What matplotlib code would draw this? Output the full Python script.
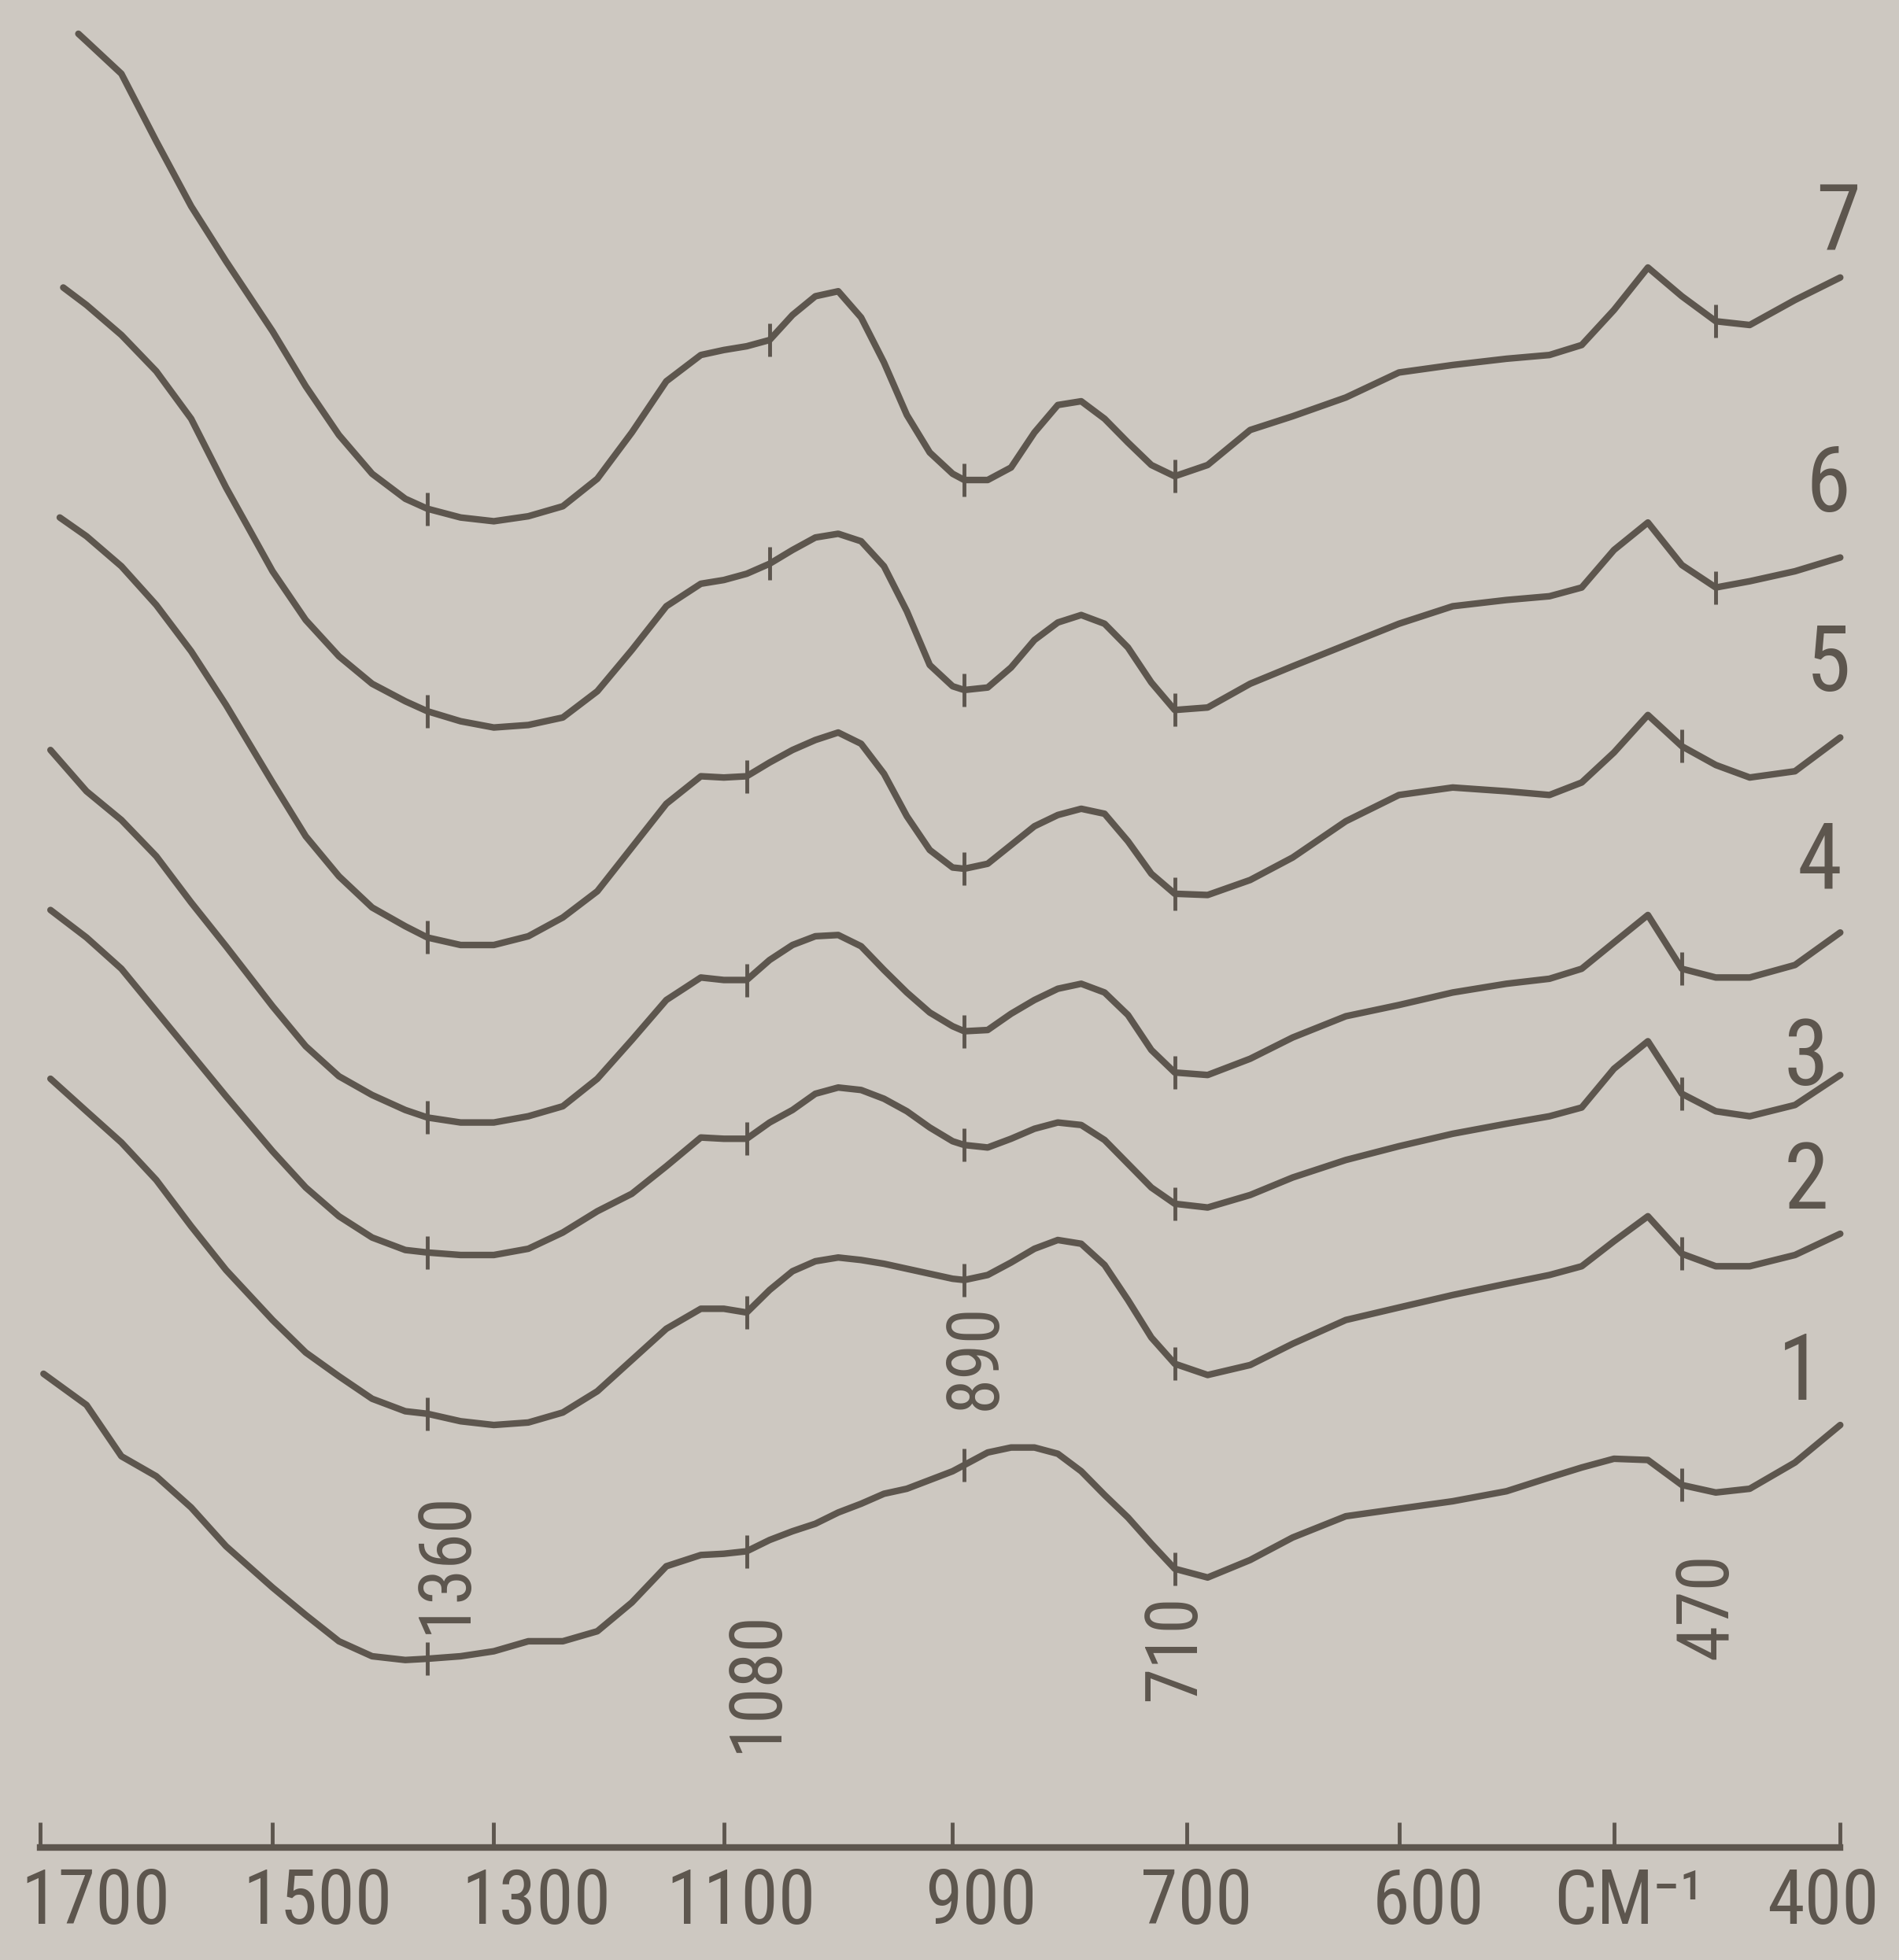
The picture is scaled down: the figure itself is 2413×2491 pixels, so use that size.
import os
import numpy as np
import matplotlib
matplotlib.use("Agg")
import matplotlib.pyplot as plt
from matplotlib import font_manager
from matplotlib.font_manager import FontProperties
from matplotlib.ft2font import FT2Font
from matplotlib.transforms import offset_copy

# ------------------ DADOS (lidos do espectro) ------------------
# grade comum de numeros de onda, cm-1 (o 1o ponto e trocado pelo inicio de cada curva)
wavenumbers = [1690, 1660, 1630, 1600, 1570, 1540, 1500, 1470, 1440, 1410,
               1380, 1360, 1330, 1300, 1270, 1240, 1210, 1180, 1150, 1120,
               1100, 1080, 1060, 1040, 1020, 1000, 980, 960, 940, 920,
               900, 890, 870, 850, 830, 810, 790, 770, 750, 730,
               710, 690, 670, 650, 625, 600, 575, 550, 530, 515,
               500, 485, 470, 455, 440, 420, 400]
curve_starts = [1697, 1691, 1691, 1691, 1683, 1680, 1667]

# ordenada de cada curva (posicao na folha do registrador, 0 = topo)
curve_1 = [1099, 1124, 1165, 1181, 1206, 1237, 1270, 1292, 1313, 1325,
           1328, 1327, 1325, 1321, 1313, 1313, 1305, 1282, 1253, 1244,
           1243, 1241, 1232, 1225, 1219, 1210, 1203, 1195, 1191, 1184,
           1177, 1172, 1162, 1158, 1158, 1163, 1177, 1196, 1214, 1235,
           1255, 1262, 1248, 1230, 1213, 1207, 1201, 1193, 1182, 1174,
           1167, 1168, 1188, 1194, 1191, 1170, 1140]
curve_2 = [863, 889, 914, 944, 981, 1016, 1056, 1082, 1101, 1119,
           1129, 1131, 1137, 1140, 1138, 1130, 1113, 1088, 1063, 1047,
           1047, 1050, 1032, 1017, 1009, 1006, 1008, 1011, 1015, 1019,
           1023, 1024, 1020, 1010, 999, 992, 995, 1012, 1040, 1070,
           1091, 1100, 1092, 1075, 1056, 1046, 1036, 1027, 1020, 1013,
           993, 973, 1003, 1013, 1013, 1004, 987]
curve_3 = [728, 750, 775, 809, 843, 877, 921, 950, 973, 990,
           1000, 1002, 1004, 1004, 999, 986, 969, 955, 933, 910,
           911, 911, 898, 888, 875, 870, 872, 879, 889, 902,
           913, 916, 918, 911, 903, 898, 900, 912, 931, 950,
           963, 966, 956, 942, 928, 917, 907, 899, 893, 886,
           855, 833, 875, 889, 893, 884, 860]
curve_4 = [600, 633, 656, 685, 722, 757, 805, 837, 861, 876,
           888, 894, 898, 898, 893, 885, 863, 832, 800, 782,
           784, 784, 768, 756, 749, 748, 757, 776, 794, 810,
           821, 825, 824, 811, 800, 791, 787, 794, 812, 840,
           858, 860, 847, 830, 813, 804, 794, 787, 783, 775,
           754, 732, 775, 782, 782, 772, 746]
curve_5 = [414, 429, 453, 484, 521, 564, 626, 669, 701, 726,
           741, 750, 756, 756, 749, 734, 713, 678, 643, 621,
           622, 621, 610, 600, 592, 586, 595, 619, 653, 680,
           694, 695, 691, 676, 661, 652, 647, 651, 673, 699,
           715, 716, 704, 686, 657, 636, 630, 633, 636, 626,
           602, 572, 597, 612, 622, 617, 590]
curve_6 = [230, 244, 268, 297, 335, 390, 457, 496, 525, 547,
           561, 569, 577, 582, 580, 574, 553, 520, 485, 467,
           464, 459, 451, 440, 430, 427, 433, 453, 489, 532,
           549, 552, 550, 534, 512, 498, 492, 499, 518, 546,
           568, 566, 547, 533, 516, 499, 485, 480, 477, 470,
           440, 418, 452, 470, 465, 457, 446]
curve_7 = [27, 33, 59, 113, 165, 209, 265, 309, 348, 379,
           399, 407, 414, 417, 413, 405, 383, 346, 305, 284,
           280, 277, 272, 252, 237, 233, 254, 290, 332, 362,
           379, 384, 384, 374, 346, 324, 321, 335, 354, 372,
           381, 372, 344, 333, 318, 298, 292, 287, 284, 276,
           248, 214, 237, 257, 260, 240, 222]
curves = [curve_1, curve_2, curve_3, curve_4, curve_5, curve_6, curve_7]
curve_names = ['1', '2', '3', '4', '5', '6', '7']

# bandas marcadas (tracinhos sobre as curvas)
band_marks = [1360, 1080, 890, 710, 470]
band_marks_top = [1360, 1060, 890, 710, 455]   # curvas 6 e 7, ligeiramente deslocadas
band_labels = ['1360', '1080', '890', '710', '470']

# eixo x
axis_ticks = [1700, 1500, 1300, 1100, 900, 700, 600, 500, 400]
axis_labels = ['1700', '1500', '1300', '1100', '900', '700', '600', 'CM⁻¹', '400']

# ------------------ ESCALA (troca de rede em 700 cm-1) ------------------
scale_wn = [300, 400, 500, 600, 700, 900, 1100, 1300, 1500, 1700, 1900]
scale_pos = [-181, 0, 181, 353, 523, 710, 893, 1077, 1254, 1440, 1626]


def forward(w):
    return np.interp(w, scale_wn, scale_pos)


def inverse(p):
    return np.interp(p, scale_pos, scale_wn)


# ------------------ FONTE ESTREITA ------------------
def pick_narrow_font():
    files = {os.path.basename(f.fname).lower(): f.fname
             for f in font_manager.fontManager.ttflist}
    prefs = ['liberationsansnarrow-regular', 'notosans-extracondensed.',
             'notosans-condensed.', 'robotocondensed-regular',
             'roboto_condensed-regular', 'opensans_condensed-regular',
             'opensans-condensed', 'dejavusanscondensed.']
    for p in prefs:
        for base, path in files.items():
            if base.startswith(p):
                return path
    return font_manager.findfont('DejaVu Sans')


font_path = pick_narrow_font()


def size_for(text, width_px, height_px):
    ft = FT2Font(font_path)
    ft.set_size(100, 100)
    ft.set_text(text, 0.0)
    w = ft.get_width_height()[0] / 64.0
    by_width = 100 * width_px / w
    by_height = height_px / 0.72 * 72 / 100
    return min(by_width, by_height)


def has_glyphs(text):
    ft = FT2Font(font_path)
    return all(ft.get_char_index(ord(c)) != 0 for c in text)


axis_size = size_for('1700', 190, 97)
band_size = size_for('1360', 190, 66)
name_size = axis_size * 1.2
fp_axis = FontProperties(fname=font_path, size=axis_size)
fp_band = FontProperties(fname=font_path, size=band_size)
fp_name = FontProperties(fname=font_path, size=name_size)
if not has_glyphs('CM⁻¹'):
    axis_labels[7] = 'CM-1'

ink = '#5d564e'
paper = '#cdc8c1'

# ------------------ FIGURA ------------------
fig = plt.figure(figsize=(24.13, 24.91), dpi=100, facecolor=paper)
ax = fig.add_axes([32 / 1519, 90 / 1568, 1440 / 1519, 1478 / 1568])
ax.set_facecolor(paper)
ax.set_xscale('function', functions=(forward, inverse))
ax.set_xlim(1700, 400)
ax.set_ylim(1478, 0)

for i, vals in enumerate(curves):
    wn = [curve_starts[i]] + wavenumbers[1:]
    ax.plot(wn, vals, color=ink, lw=6, solid_joinstyle='round',
            solid_capstyle='round', clip_on=False)
    marks = band_marks_top if i >= 5 else band_marks
    my = [vals[wavenumbers.index(m)] for m in marks]
    ax.plot(marks, my, ls='none', marker='|', ms=30, mew=3.5, color=ink, clip_on=False)

# numeros das curvas
name_offsets = [(-37, 46), (-31, 46), (-31, 14), (-19, 64), (-11, 66), (-11, 65), (-2, 48)]
for i, vals in enumerate(curves):
    ax.annotate(curve_names[i], xy=(400, vals[-1]), xytext=name_offsets[i],
                textcoords='offset points', ha='center', va='center',
                fontproperties=fp_name, color=ink, annotation_clip=False)

# rotulos das bandas (verticais)
band_y = [1250, 1345, 1085, 1318, 1285]
band_dx = [17, 9, 10, 0, 23]
for w, lab, y, dx in zip(band_marks, band_labels, band_y, band_dx):
    tr = offset_copy(ax.transData, fig=fig, x=dx, y=0, units='points')
    ax.text(w, y, lab, transform=tr, rotation=90, ha='center', va='center',
            fontproperties=fp_band, color=ink)

# eixo x
for s in ['left', 'right', 'top']:
    ax.spines[s].set_visible(False)
ax.spines['bottom'].set_linewidth(6)
ax.spines['bottom'].set_color(ink)
ax.set_yticks([])
ax.set_xticks(axis_ticks)
ax.minorticks_off()
ax.tick_params(axis='x', direction='in', length=23, width=3.5, color=ink,
               labelbottom=False)

label_dx = [51, 41, 39, 16, 26, 9, 27, 14, -16]
for w, lab, dx in zip(axis_ticks, axis_labels, label_dx):
    tr = offset_copy(ax.get_xaxis_transform(), fig=fig, x=dx, y=-18, units='points')
    ax.text(w, 0, lab, transform=tr, ha='center', va='top',
            fontproperties=fp_axis, color=ink)

fig.savefig('out.png', dpi=100, facecolor=paper)
